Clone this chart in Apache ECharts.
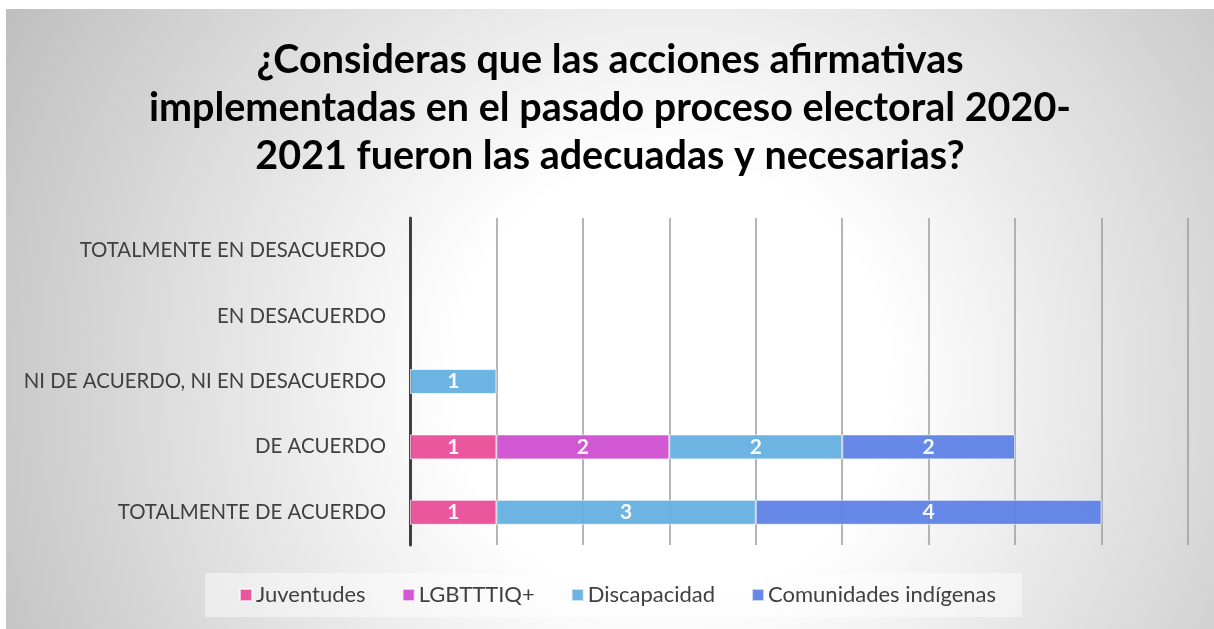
<!DOCTYPE html>
<html>
<head>
<meta charset="utf-8">
<script src="https://cdn.jsdelivr.net/npm/echarts@6/dist/echarts.min.js"></script>
<style>
  html, body { margin: 0; padding: 0; background: #fff; }
  #main { position: absolute; left: 6px; top: 9px; width: 1208px; height: 620px; }
</style>
</head>
<body>
<div id="main"></div>
<script>
// categories, bottom to top as ECharts draws them
var categories = ['TOTALMENTE DE ACUERDO', 'DE ACUERDO', 'NI DE ACUERDO, NI EN DESACUERDO', 'EN DESACUERDO', 'TOTALMENTE EN DESACUERDO'];
var juventudes = [1, 1, 0, 0, 0];
var lgbt = [0, 2, 0, 0, 0];
var discapacidad = [3, 2, 1, 0, 0];
var indigenas = [4, 2, 0, 0, 0];

var myChart = echarts.init(document.getElementById('main'));

var barLabel = {
  show: true,
  color: '#fff',
  fontFamily: 'Lato',
  fontWeight: 'bold',
  fontSize: 21
};

function mkSeries(name, data, color) {
  return {
    name: name,
    type: 'bar',
    stack: 'total',
    barWidth: 25,
    // empty cells are left out so no sliver is drawn
    data: data.map(function (v) { return v ? v : '-'; }),
    label: barLabel,
    itemStyle: {
      color: color,
      opacity: 0.93,
      borderColor: 'rgba(255,255,255,0.7)',
      borderWidth: 1
    }
  };
}

var option = {
  backgroundColor: {
    type: 'radial', x: 0.55, y: 0.6, r: 1.25,
    colorStops: [
      { offset: 0, color: '#ffffff' },
      { offset: 0.28, color: '#ffffff' },
      { offset: 1, color: '#bdbdbd' }
    ]
  },
  animation: false,
  title: {
    text: '¿Consideras que las acciones afirmativas\nimplementadas en el pasado proceso electoral 2020-\n2021 fueron las adecuadas y necesarias?',
    left: 'center',
    top: 22,
    textStyle: {
      fontFamily: 'Lato',
      fontWeight: 'bold',
      fontSize: 39.5,
      lineHeight: 48,
      color: '#000'
    }
  },
  legend: {
    top: 564,
    left: 199,
    itemWidth: 12,
    itemHeight: 12,
    itemGap: 36,
    padding: [11, 26, 11, 34],
    backgroundColor: 'rgba(255,255,255,0.45)',
    icon: 'rect',
    textStyle: { fontFamily: 'Lato', fontSize: 22, color: '#404040', padding: [0, 0, 0, -1] }
  },
  grid: { left: 404, right: 26, top: 209, bottom: 84 },
  xAxis: {
    type: 'value',
    min: 0,
    max: 9,
    interval: 1,
    axisLabel: { show: false },
    axisLine: { show: false },
    axisTick: { show: false },
    splitLine: { lineStyle: { color: '#9c9c9c', width: 1.5 } }
  },
  yAxis: {
    type: 'category',
    data: categories,
    axisTick: { show: false },
    axisLine: { show: true, lineStyle: { color: '#404040', width: 3 } },
    axisLabel: { fontFamily: 'Lato', fontSize: 20.4, color: '#404040', margin: 24 }
  },
  series: [
    mkSeries('Juventudes', juventudes, '#e84a96'),
    mkSeries('LGBTTTIQ+', lgbt, '#cd4bd0'),
    mkSeries('Discapacidad', discapacidad, '#62aee0'),
    mkSeries('Comunidades indígenas', indigenas, '#5a80e6')
  ]
};

myChart.setOption(option);
</script>
</body>
</html>
